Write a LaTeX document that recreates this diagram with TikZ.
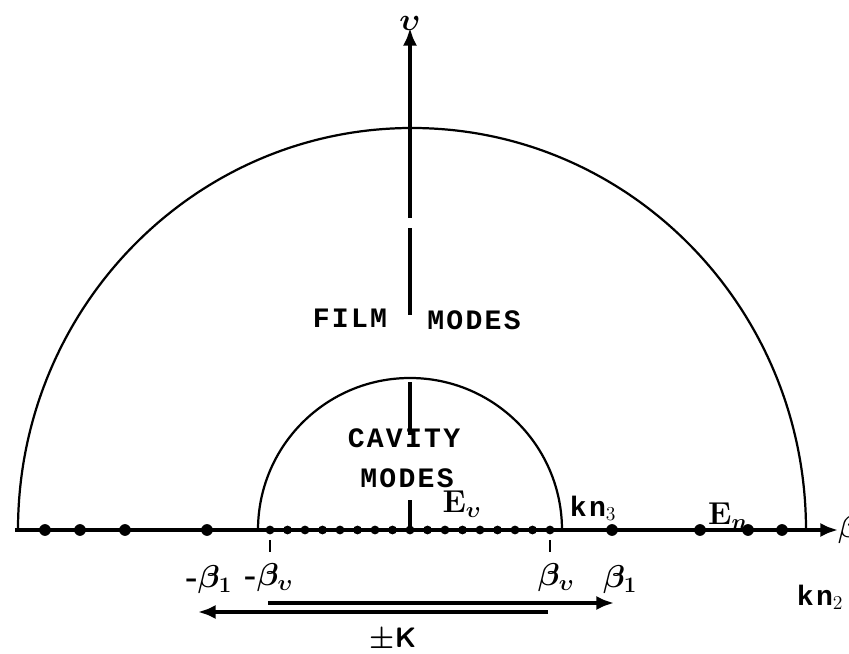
\documentclass[tikz,border=0pt]{standalone}
\usepackage{fix-cm}
\usepackage{fontspec}
\usepackage{amsmath,amssymb}
\usetikzlibrary{shapes,arrows,arrows.meta,positioning,calc}
\newfontfamily\typefont[LetterSpace=8]{Liberation Mono}

\begin{document}
\begin{tikzpicture}[x=0.03cm,y=0.03cm,
    axis/.style={line width=2.9pt, -{Latex[length=15pt,width=12pt]}},
    rim/.style={line width=1.9pt},
    bigdot/.style={circle, fill=black, inner sep=0pt, minimum size=10pt},
    smalldot/.style={circle, fill=black, inner sep=0pt, minimum size=7.5pt},
    lbl/.style={font=\fontsize{27}{32}\selectfont\boldmath, inner sep=1pt},
    modes/.style={font=\fontsize{24}{28}\selectfont\typefont\bfseries, inner sep=1pt}]
    \useasboundingbox (-410,-124) rectangle (439,530);

    % Axes
    \coordinate (O) at (0,0);
    \coordinate (xs) at (-395,0);
    \coordinate (xe) at (428,0);
    \draw[axis] (xs) -- (xe);
    \node[lbl, right, inner sep=0pt] (beta) at (xe) {$\beta$};
    % vertical axis, broken in the old print
    \draw[axis, -] (O) -- (0,30);
    \draw[axis, -] (0,95) -- (0,148);
    \draw[axis, -] (0,215) -- (0,302);
    \coordinate (yt) at (0,502);
    \draw[axis] (0,312) -- (yt);
    \node[lbl, above, inner sep=-2pt] (ups) at (yt) {$\upsilon$};

    % Semicircles
    \draw[rim] (-392,0) arc (180:0:394 and 402);
    \draw[rim] (-152,0) arc (180:0:152);

    % Cavity modes
    \foreach \k in {-8,...,8}
        \node[smalldot] (c\k) at (\k*17.5,0) {};
    % Film modes
    \foreach \x [count=\i] in {-365,-330,-285,-203,202,290,338,372}
        \node[bigdot] (f\i) at (\x,0) {};

    % Ticks
    \draw[line width=1.5pt] (-140,-10) -- (-140,-22);
    \draw[line width=1.5pt] (140,-10) -- (140,-22);

    % Labels
    \node[lbl] (mb1) at (-201,-50) {\textbf{-}$\beta_1$};
    \node[lbl] (mbv) at (-141,-48) {\textbf{-}$\beta_\upsilon$};
    \node[lbl] (bv) at (146,-48) {$\beta_\upsilon$};
    \node[lbl] (b1) at (210,-50) {$\beta_1$};
    \node[modes] (kn3) at (183,22) {kn$_3$};
    \node[modes] (kn2) at (410,-67) {kn$_2$};
    \node[lbl] (Ev) at (52,26) {$\mathbf{E}_\upsilon$};
    \node[lbl] (En) at (318,14) {$\mathbf{E}_n$};

    % Regions
    \node[modes] (film) at (-60,212) {FILM};
    \node[modes] (filmm) at (64,210) {MODES};
    \node[modes] (cav) at (-6,92) {CAVITY};
    \node[modes] (cavm) at (-3,52) {MODES};

    % Grating vectors
    \coordinate (ka) at (-142,-73);
    \coordinate (kb) at (204,-73);
    \coordinate (kc) at (138,-82);
    \coordinate (kd) at (-212,-82);
    \draw[axis] (ka) -- (kb);
    \draw[axis] (kc) -- (kd);
    \node[lbl, font=\fontsize{24}{28}\selectfont\sffamily\bfseries\boldmath] (K) at (-17,-110) {$\pm$K};
\end{tikzpicture}
\end{document}
